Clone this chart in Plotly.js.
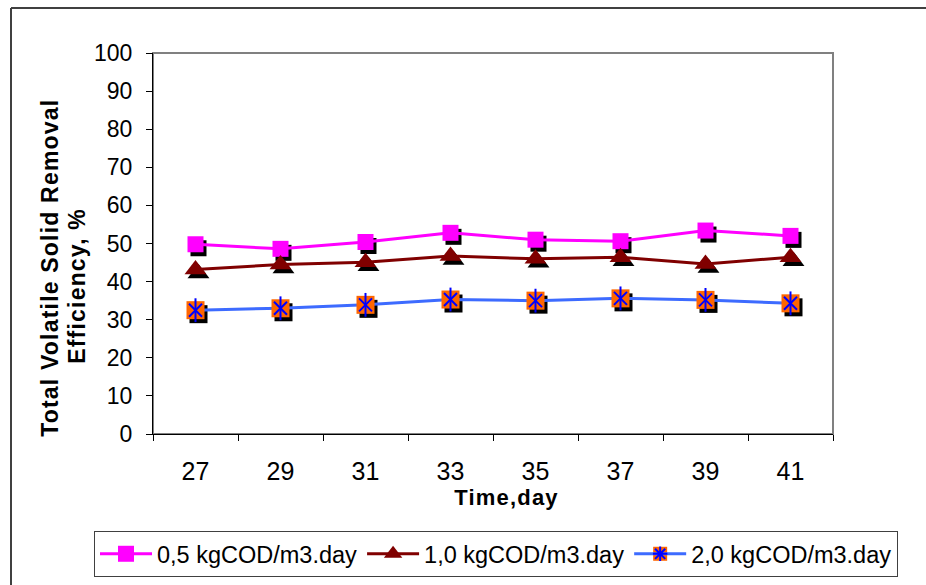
<!DOCTYPE html>
<html>
<head>
<meta charset="utf-8">
<script src="https://cdn.plot.ly/plotly-3.0.1.min.js"></script>
<style>
html,body{margin:0;padding:0;background:#fff;}
#chart{width:926px;height:585px;}
#chart g.annotation text{letter-spacing:1.2px;}
</style>
</head>
<body>
<div id="chart"></div>
<script>
// ---- data ----
var days = ['27', '29', '31', '33', '35', '37', '39', '41'];
var load05 = [49.8, 48.6, 50.4, 52.8, 51.0, 50.6, 53.4, 52.0];
var load10 = [43.2, 44.5, 45.1, 46.7, 46.0, 46.4, 44.6, 46.4];
var load20 = [32.5, 33.0, 33.9, 35.3, 35.0, 35.6, 35.2, 34.3];
var seriesNames = ['0,5 kgCOD/m3.day', '1,0 kgCOD/m3.day', '2,0 kgCOD/m3.day'];
var yTickVals = [0, 10, 20, 30, 40, 50, 60, 70, 80, 90, 100];
var xTitle = 'Time,day';
var yTitleLines = ['Total Volatile Solid Removal', 'Efficiency, %'];

// ---- geometry ----
var W = 926, H = 585;
var mL = 153, mR = 93, mT = 53, mB = 151;
var plotW = W - mL - mR, plotH = H - mT - mB;
var xRange = [-0.5, days.length - 0.5];
var yRange = [0, 100];
var shX = 3, shY = 4; // shadow offset px
var xu = (xRange[1] - xRange[0]) / plotW;
var yu = (yRange[1] - yRange[0]) / plotH;
var font = 'Liberation Sans, Arial, sans-serif';

function px2paperX(p) { return (p - mL) / plotW; }
function px2paperY(p) { return (H - mB - p) / plotH; }

var blue = '#0000FF';
var mk05 = {symbol: 'square', size: 16, color: '#FF00FF'};
var mk10 = {symbol: 'triangle-up', size: 19, color: '#800000'};
var mk20 = {symbol: 'square', size: 18, color: '#FF6600'};

function shadow(vals, mk) {
  return {x: days, y: vals, xaxis: 'x', yaxis: 'y', mode: 'markers', showlegend: false, hoverinfo: 'skip',
    marker: {symbol: mk.symbol, size: mk.size, color: '#000000'}};
}

var data = [
  shadow(load05, mk05), shadow(load10, mk10), shadow(load20, mk20),
  {x: days, y: load05, name: seriesNames[0], xaxis: 'x2', yaxis: 'y2', mode: 'lines+markers',
    line: {color: '#FF00FF', width: 3}, marker: mk05},
  {x: days, y: load10, name: seriesNames[1], xaxis: 'x2', yaxis: 'y2', mode: 'lines+markers',
    line: {color: '#800000', width: 3}, marker: mk10},
  {x: days, y: load20, name: seriesNames[2], xaxis: 'x2', yaxis: 'y2', mode: 'lines+markers',
    line: {color: '#3D6BFF', width: 3}, marker: {symbol: 'asterisk-open', size: 12, color: blue, line: {color: blue, width: 2}}},
  {x: days, y: load20, xaxis: 'x2', yaxis: 'y2', mode: 'markers', showlegend: false, marker: mk20},
  {x: days, y: load20, xaxis: 'x2', yaxis: 'y2', mode: 'markers', showlegend: false,
    marker: {symbol: 'x-thin-open', size: 13, color: blue, line: {color: blue, width: 2}}},
  {x: days, y: load20, xaxis: 'x2', yaxis: 'y2', mode: 'markers', showlegend: false,
    marker: {symbol: 'line-ns-open', size: 17, color: blue, line: {color: blue, width: 2}}}
];

var titleFont = {size: 23, family: font, weight: 'bold', color: '#000'};

var layout = {
  width: W, height: H,
  margin: {l: mL, r: mR, t: mT, b: mB, pad: 0, autoexpand: false},
  paper_bgcolor: '#ffffff', plot_bgcolor: 'rgba(0,0,0,0)',
  font: {family: font, color: '#000000'},
  showlegend: true,
  xaxis: {type: 'category', categoryarray: days, range: [xRange[0] - shX * xu, xRange[1] - shX * xu], visible: false, fixedrange: true},
  yaxis: {range: [yRange[0] + shY * yu, yRange[1] + shY * yu], visible: false, fixedrange: true},
  xaxis2: {type: 'category', categoryarray: days, overlaying: 'x', side: 'bottom', anchor: 'y2', range: xRange,
    tickson: 'boundaries', ticks: 'outside', ticklen: 6, tickcolor: '#000', tickwidth: 1,
    showline: true, linecolor: '#000', linewidth: 1, showgrid: false, zeroline: false,
    tickfont: {size: 25, family: font}, ticklabelstandoff: 15},
  yaxis2: {overlaying: 'y', side: 'left', anchor: 'x2', range: yRange, tickvals: yTickVals,
    ticks: 'outside', ticklen: 6, tickcolor: '#000', tickwidth: 1,
    showline: true, linecolor: '#000', linewidth: 1, showgrid: false, zeroline: false,
    tickfont: {size: 23, family: font}, ticklabelstandoff: 9},
  legend: {orientation: 'h', x: px2paperX(94), y: px2paperY(531), xanchor: 'left', yanchor: 'top',
    bgcolor: 'rgba(255,255,255,0)', bordercolor: '#404040', borderwidth: 1, itemwidth: 52,
    font: {size: 23.5, family: font}, tracegroupgap: 0},
  annotations: [
    {text: yTitleLines[0], xref: 'paper', yref: 'paper', x: px2paperX(50), y: px2paperY(268), textangle: -90,
      xanchor: 'center', yanchor: 'middle', showarrow: false, font: titleFont},
    {text: yTitleLines[1], xref: 'paper', yref: 'paper', x: px2paperX(77), y: px2paperY(286), textangle: -90,
      xanchor: 'center', yanchor: 'middle', showarrow: false, font: titleFont},
    {text: xTitle, xref: 'paper', yref: 'paper', x: px2paperX(507), y: px2paperY(497),
      xanchor: 'center', yanchor: 'middle', showarrow: false, font: {size: 22, family: font, weight: 'bold', color: '#000'}}
  ],
  shapes: [
    {type: 'rect', xref: 'paper', yref: 'paper', x0: 0, x1: 1, y0: 0, y1: 1, line: {color: '#808080', width: 2}, layer: 'below'},
    {type: 'line', xref: 'paper', yref: 'paper', x0: px2paperX(11), x1: px2paperX(940), y0: px2paperY(8), y1: px2paperY(8), line: {color: '#404040', width: 2}},
    {type: 'line', xref: 'paper', yref: 'paper', x0: px2paperX(11), x1: px2paperX(11), y0: px2paperY(8), y1: px2paperY(600), line: {color: '#404040', width: 2}}
  ]
};

Plotly.newPlot('chart', data, layout, {displayModeBar: false, staticPlot: true}).then(function (gd) {
  // put the orange square under the third legend symbol (legend bg is transparent)
  try {
    var items = gd.querySelectorAll('.legend .traces');
    var sym = items[2].querySelector('.legendpoints path.scatterpts');
    var box = sym.getBoundingClientRect();
    var host = gd.getBoundingClientRect();
    var cx = box.left + box.width / 2 - host.left, cy = box.top + box.height / 2 - host.top;
    var h = 7;
    var shp = layout.shapes.slice();
    shp.push({type: 'rect', xref: 'paper', yref: 'paper', layer: 'above',
      x0: px2paperX(cx - h), x1: px2paperX(cx + h), y0: px2paperY(cy + h), y1: px2paperY(cy - h),
      fillcolor: '#FF6600', line: {width: 0}});
    return Plotly.relayout(gd, {shapes: shp});
  } catch (e) {}
});
</script>
</body>
</html>
